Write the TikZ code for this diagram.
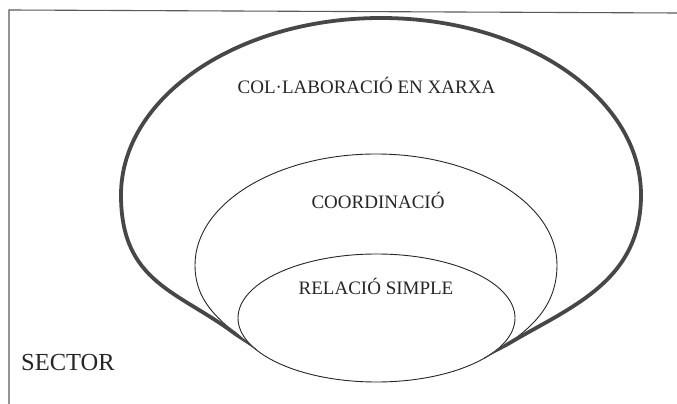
\documentclass[tikz,border=0pt]{standalone}
\usepackage{fontspec}
\setmainfont{Liberation Serif}
\usetikzlibrary{calc}
\begin{document}
\begin{tikzpicture}[x=1pt,y=1pt,
  thinline/.style={line width=0.9pt, draw=black!85},
  thickline/.style={line width=3.8pt, draw=black!72, line cap=butt, line join=round},
  thickfill/.style={fill=black!72},
  frameline/.style={line width=1.1pt, draw=black!65},
  lbl/.style={anchor=base, inner sep=0pt, text=black!85, font=\fontsize{19}{19}\selectfont},
]
\useasboundingbox (0,0) rectangle (677,404);
% frame (only top and left visible)
\coordinate (bl) at (9,0);
\coordinate (tl) at (9,394);
\coordinate (tr) at (677,391);
\draw[frameline] (bl) -- (tl) -- (tr);

% merge points on the innermost ellipse
\coordinate (L) at (256.6,54);
\coordinate (R) at (484.1,45.7);
% where the thick line starts to taper
\coordinate (A) at ($(L)+(143:26)$);
\coordinate (B) at ($(R)+(31:26)$);

% innermost ellipse: RELACIO SIMPLE
\draw[thinline] (376.5,86) ellipse [x radius=138.5, y radius=64];

% middle curve: COORDINACIO
\draw[thinline] (L) to[out=141,in=-90] (195,139)
  arc[start angle=180,end angle=0,x radius=181,y radius=111]
  to[out=-90,in=30] (R);

% outer thick curve: COL.LABORACIO EN XARXA
\draw[thickline] (A) .. controls +(143:72) and +(0,-88) .. (121,209)
  arc[start angle=180,end angle=0,x radius=260,y radius=177]
  .. controls +(0,-88) and +(31:72) .. (B);
\fill[thickfill] ($(A)!1.9pt!90:(L)$) -- (L) -- ($(A)!1.9pt!-90:(L)$) -- cycle;
\fill[thickfill] ($(B)!1.9pt!90:(R)$) -- (R) -- ($(B)!1.9pt!-90:(R)$) -- cycle;

% labels
\node[lbl] (collab) at (366.5,310) {COL·LABORACIÓ EN XARXA};
\node[lbl] (coord) at (378,195) {COORDINACIÓ};
\node[lbl] (rel) at (376,109) {RELACIÓ SIMPLE};
\node[lbl, anchor=base west, font=\fontsize{24.5}{24.5}\selectfont] (sector) at (21,33) {SECTOR};
\end{tikzpicture}
\end{document}
